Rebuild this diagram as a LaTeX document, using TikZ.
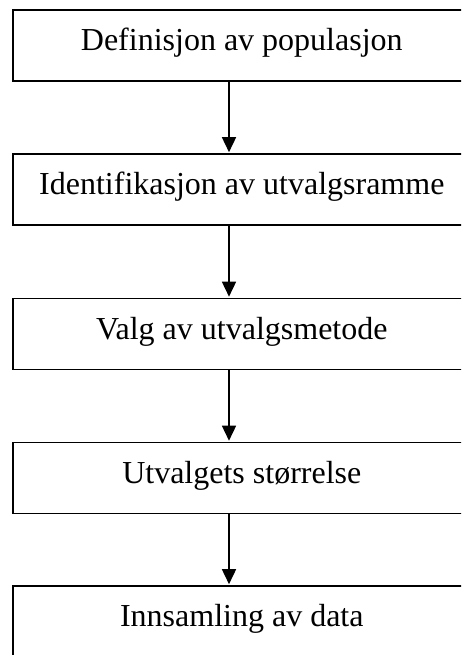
\documentclass[tikz,border=0pt]{standalone}
\usepackage{fontspec}
\setmainfont{Liberation Serif}
\usetikzlibrary{arrows.meta}

\tikzset{
  stage/.style={draw=black, line width=1.6pt, rectangle, anchor=north west,
    inner sep=0pt, minimum width=458pt, text height=41pt, text depth=30pt,
    font=\fontsize{32}{38}\selectfont},
  flow/.style={draw=black, line width=1.6pt,
    -{Triangle[length=15pt, width=14pt]}, shorten >=0.8pt}
}

\begin{document}
\begin{tikzpicture}[x=1pt, y=-1pt]
  \useasboundingbox (0,0) rectangle (461,655);
  \clip (0,0) rectangle (461,655);

  % stages of the sampling process
  \node[stage] (b1) at (12,9)     {Definisjon av populasjon};
  \node[stage] (b2) at (12,153)   {Identifikasjon av utvalgsramme};
  \node[stage] (b3) at (12,297.5) {Valg av utvalgsmetode};
  \node[stage] (b4) at (12,441.5) {Utvalgets størrelse};
  \node[stage, text depth=45pt] (b5) at (12,585) {Innsamling av data};

  % x position of the connecting arrows
  \coordinate (ax) at (229,0);

  \draw[flow] (b1.south -| ax) -- (b2.north -| ax);
  \draw[flow] (b2.south -| ax) -- (b3.north -| ax);
  \draw[flow] (b3.south -| ax) -- (b4.north -| ax);
  \draw[flow] (b4.south -| ax) -- (b5.north -| ax);
\end{tikzpicture}
\end{document}
